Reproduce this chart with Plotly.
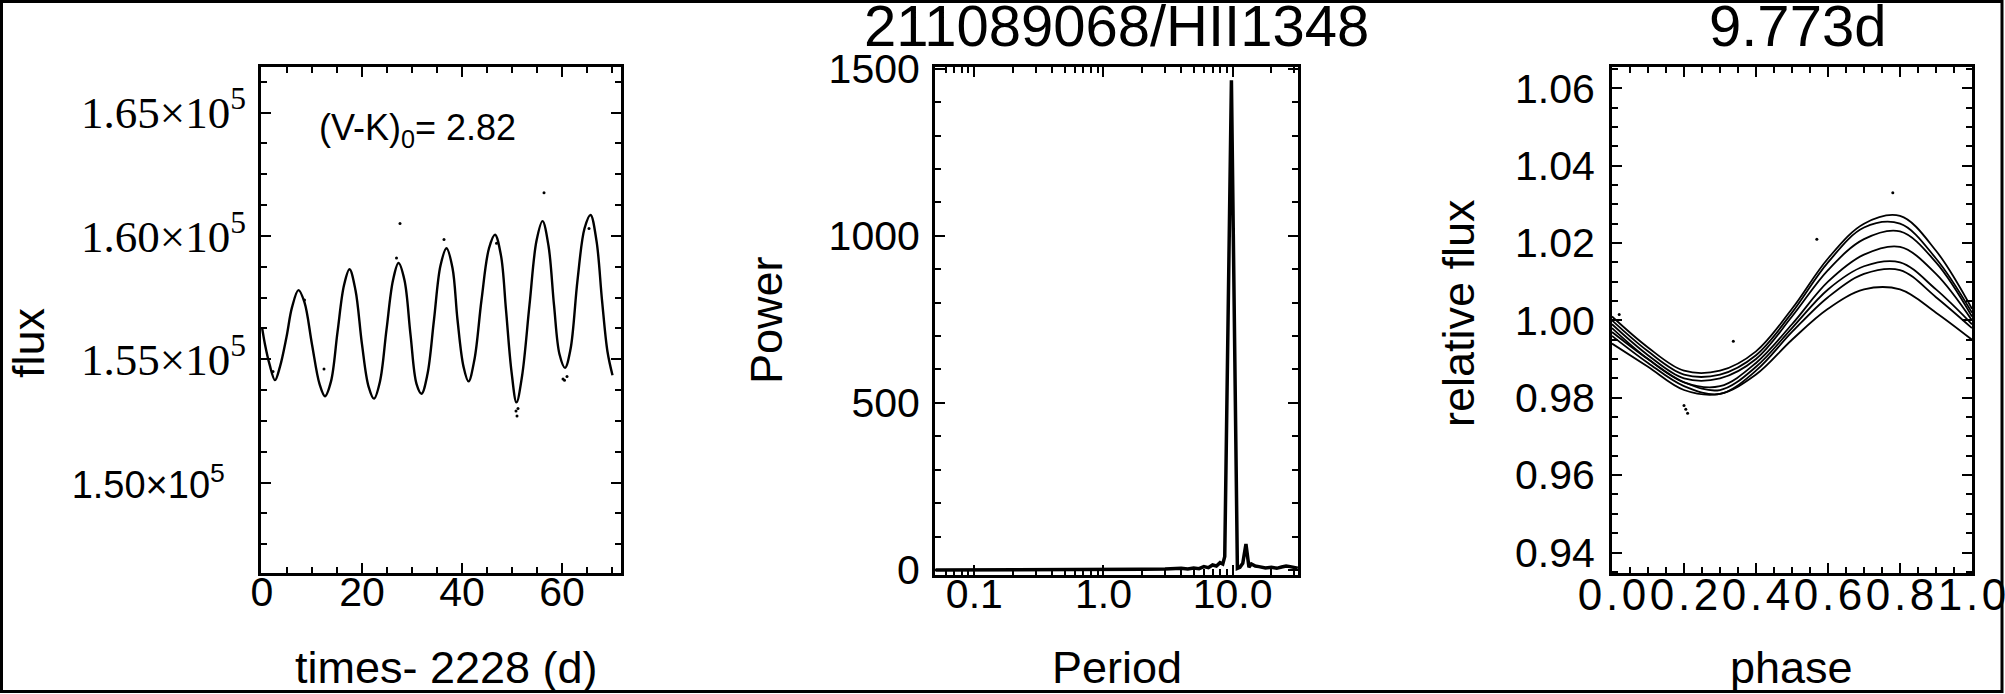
import plotly.graph_objects as go

W, H = 2005, 694

# ---------------- Panel 1: light curve ----------------
lc_time = [0.0, 0.6, 1.5, 2.6, 3.6, 4.9, 6.0, 7.3, 8.5, 10.0, 11.5, 12.6, 13.8, 15.1, 16.4,
           17.5, 18.7, 20.0, 21.3, 22.4, 23.6, 24.9, 26.2, 27.3, 28.5, 29.7, 30.9, 31.9,
           33.1, 34.4, 35.7, 36.9, 38.1, 39.1, 40.3, 41.3, 42.5, 43.9, 45.4, 46.6, 47.8,
           48.8, 49.9, 50.9, 52.0, 53.5, 54.9, 56.1, 57.3, 58.4, 59.5, 60.6, 61.7, 63.1,
           64.5, 65.7, 66.9, 68.0, 69.1, 70.1]
lc_flux = [156300, 155600, 154800, 154150, 154700, 155900, 157100, 157800, 157300, 155600,
           154000, 153500, 154100, 156100, 158000, 158650, 157800, 155600, 153900, 153400,
           154100, 156200, 158200, 158900, 158200, 156000, 154000, 153600, 154400, 156600,
           158800, 159500, 158700, 156600, 154700, 154100, 155000, 157400, 159500, 160050,
           159200, 157000, 154500, 153250, 154300, 157200, 159800, 160600, 159600, 157200,
           155200, 154650, 155400, 158200, 160300, 160850, 159800, 157400, 155300, 154350]
lc_out_time = [27.6, 56.4, 36.4, 8.5, 12.4, 50.8, 51.0, 51.2, 60.2, 61.0, 60.5, 2.2, 26.9, 46.9, 65.4]
lc_out_flux = [160500, 161750, 159850, 157400, 154600, 152900, 152700, 153000, 154200, 154300,
               154150, 154500, 159100, 159700, 160300]

lc_ytickvals = [150000, 155000, 160000, 165000]
lc_yticktext = ["<span style='font-family:Liberation Sans;font-size:38px'>1.50×10<sup>5</sup>\u00a0\u00a0</span>",
                "1.55×10<sup>5</sup>", "1.60×10<sup>5</sup>", "1.65×10<sup>5</sup>"]
lc_xtickvals = [0, 20, 40, 60]

# ---------------- Panel 2: periodogram ----------------
per_period = [0.05, 0.08, 0.12, 0.2, 0.3, 0.5, 0.8, 1.0, 1.5, 2.0, 3.0, 4.0, 4.5, 5.0, 5.5,
              6.0, 6.5, 7.0, 7.5, 8.0, 8.4, 8.7, 9.8, 10.9, 11.4, 12.0, 12.7, 13.4, 14.0,
              15.0, 16.0, 18.0, 20.0, 22.0, 24.0, 26.0, 28.0, 30.0, 32.0]
per_power = [0, 0, 0, 0, 0, 0, 1, 1, 1, 2, 3, 5, 3, 6, 4, 10, 7, 15, 12, 22, 18, 40, 1465,
             5, 8, 20, 78, 8, 18, 12, 10, 6, 8, 5, 9, 12, 10, 7, 5]
per_xtickvals = [0.1, 1.0, 10.0]
per_xticktext = ["0.1", "1.0", "10.0"]
per_xminor = [0.06, 0.07, 0.08, 0.09, 0.2, 0.3, 0.4, 0.5, 0.6, 0.7, 0.8, 0.9,
              2, 3, 4, 5, 6, 7, 8, 9, 20, 30]
per_ytickvals = [0, 500, 1000, 1500]

# ---------------- Panel 3: phase-folded curves ----------------
fold_phase = [0.0, 0.1, 0.2, 0.3, 0.4, 0.5, 0.6, 0.7, 0.8, 0.9, 1.0]
fold_c1 = [0.994, 0.988, 0.982, 0.981, 0.986, 0.995, 1.003, 1.008, 1.008, 1.002, 0.995]
fold_c2 = [0.996, 0.989, 0.983, 0.981, 0.987, 0.997, 1.006, 1.012, 1.013, 1.006, 0.998]
fold_c3 = [0.997, 0.990, 0.984, 0.982, 0.988, 0.998, 1.008, 1.014, 1.015, 1.008, 0.999]
fold_c4 = [0.998, 0.990, 0.984, 0.983, 0.989, 0.999, 1.010, 1.017, 1.019, 1.012, 1.000]
fold_c5 = [0.999, 0.991, 0.985, 0.985, 0.990, 1.001, 1.013, 1.021, 1.023, 1.015, 1.001]
fold_c6 = [1.000, 0.992, 0.986, 0.986, 0.991, 1.002, 1.015, 1.024, 1.025, 1.016, 1.002]
fold_c7 = [1.001, 0.993, 0.987, 0.987, 0.992, 1.003, 1.016, 1.025, 1.027, 1.018, 1.003]
fold_out_phase = [0.78, 0.569, 0.337, 0.02, 0.20, 0.205, 0.21]
fold_out_flux = [1.033, 1.021, 0.9946, 1.0015, 0.978, 0.977, 0.976]
fold_xtickvals = [0.0, 0.2, 0.4, 0.6, 0.8, 1.0]
fold_xticktext = ["0\u200a.\u200a0", "0\u200a.\u200a2", "0\u200a.\u200a4",
                  "0\u200a.\u200a6", "0\u200a.\u200a8", "1\u200a.\u200a0"]
fold_ytickvals = [0.94, 0.96, 0.98, 1.00, 1.02, 1.04, 1.06]
fold_yticktext = ["0.94", "0.96", "0.98", "1.00", "1.02", "1.04", "1.06"]


def px(x):
    return x / W


def py(y):
    return 1 - y / H


SANS = "Liberation Sans, Arial, Helvetica, sans-serif"
TICKF = dict(family=SANS, size=41, color="black")

fig = go.Figure()

# panel 1
fig.add_trace(go.Scatter(x=lc_time, y=lc_flux, mode="lines",
                         line=dict(color="black", width=2.4, shape="spline", smoothing=1.0),
                         xaxis="x", yaxis="y", showlegend=False))
fig.add_trace(go.Scatter(x=lc_out_time, y=lc_out_flux, mode="markers",
                         marker=dict(color="black", size=3),
                         xaxis="x", yaxis="y", showlegend=False))
# panel 2
fig.add_trace(go.Scatter(x=per_period, y=per_power, mode="lines",
                         line=dict(color="black", width=3.5),
                         xaxis="x2", yaxis="y2", showlegend=False))
# panel 3
for c in [fold_c1, fold_c2, fold_c3, fold_c4, fold_c5, fold_c6, fold_c7]:
    fig.add_trace(go.Scatter(x=fold_phase, y=c, mode="lines",
                             line=dict(color="black", width=1.8, shape="spline", smoothing=1.0),
                             xaxis="x3", yaxis="y3", showlegend=False))
fig.add_trace(go.Scatter(x=fold_out_phase, y=fold_out_flux, mode="markers",
                         marker=dict(color="black", size=3),
                         xaxis="x3", yaxis="y3", showlegend=False))


def axis_common(**kw):
    d = dict(showline=True, linewidth=3, linecolor="black", mirror="ticks",
             ticks="inside", ticklen=10, tickwidth=2, tickcolor="black",
             showgrid=False, zeroline=False, tickfont=TICKF, tickangle=0,
             automargin=False, ticklabeloverflow="allow")
    d.update(kw)
    return d


def minor_lin(tick0, dtick):
    return dict(ticks="inside", ticklen=6, tickwidth=2, tickcolor="black",
                tickmode="linear", tick0=tick0, dtick=dtick, showgrid=False)


# domains (pixel positions)
p1x = [px(261), px(621)]
p2x = [px(935), px(1298)]
p3x = [px(1612), px(1972)]
ydom = [py(573), py(67)]
ydom2 = [py(575), py(67)]

XSTAND = -19

fig.update_layout(
    template="none",
    width=W, height=H, autosize=False,
    margin=dict(l=0, r=0, t=0, b=0, pad=0),
    paper_bgcolor="white", plot_bgcolor="white",
    showlegend=False,
    xaxis=axis_common(domain=p1x, anchor="y", range=[-0.2, 71.8], tickmode="array",
                      tickvals=lc_xtickvals, minor=minor_lin(0, 5), ticklabelstandoff=XSTAND),
    yaxis=axis_common(domain=ydom, anchor="x", range=[146330, 166850], tickmode="array",
                      tickvals=lc_ytickvals, ticktext=lc_yticktext,
                      tickfont=dict(family="Liberation Serif, Times New Roman, serif", size=45, color="black"),
                      minor=minor_lin(150000, 1250), ticklabelstandoff=3),
    xaxis2=axis_common(domain=p2x, anchor="y2", type="log", range=[-1.305, 1.507],
                       tickmode="array", tickvals=per_xtickvals, ticktext=per_xticktext,
                       minor=dict(ticks="inside", ticklen=6, tickwidth=2, tickcolor="black",
                                  tickmode="array", tickvals=per_xminor, showgrid=False),
                       ticklabelstandoff=XSTAND),
    yaxis2=axis_common(domain=ydom2, anchor="x2", range=[-15, 1505], tickmode="array",
                       tickvals=per_ytickvals, minor=minor_lin(0, 100), ticklabelstandoff=4),
    xaxis3=axis_common(domain=p3x, anchor="y3", range=[0, 1], tickmode="array",
                       tickvals=fold_xtickvals, ticktext=fold_xticktext, minor=minor_lin(0, 0.05),
                       tickfont=dict(family=SANS, size=44, color="black"), ticklabelstandoff=XSTAND),
    yaxis3=axis_common(domain=ydom, anchor="x3", range=[0.9347, 1.0655], tickmode="array",
                       tickvals=fold_ytickvals, ticktext=fold_yticktext, minor=minor_lin(0.94, 0.005),
                       ticklabelstandoff=6),
)

TITLEF = dict(family=SANS, size=58, color="black")
LABF = dict(family=SANS, size=45, color="black")

annos = [
    dict(text="211089068/HII1348", x=px(1116), y=py(26), font=TITLEF),
    dict(text="9.773d", x=px(1797), y=py(26), font=TITLEF),
    dict(text="flux", x=px(28), y=py(343), font=LABF, textangle=-90),
    dict(text="Power", x=px(766), y=py(320), font=LABF, textangle=-90),
    dict(text="relative flux", x=px(1458), y=py(313), font=LABF, textangle=-90),
    dict(text="times- 2228 (d)", x=px(446), y=py(667), font=LABF),
    dict(text="Period", x=px(1117), y=py(667), font=LABF),
    dict(text="phase", x=px(1791), y=py(667), font=LABF),
    dict(text="(V-K)<sub>0</sub>= 2.82", x=px(417), y=py(130), font=dict(family=SANS, size=36, color="black")),
]
for a in annos:
    a.update(xref="paper", yref="paper", showarrow=False, xanchor="center", yanchor="middle")
    fig.add_annotation(**a)

# outer frame
fig.add_shape(type="rect", xref="paper", yref="paper",
              x0=px(1.5), x1=px(2002), y0=py(691.5), y1=py(1.5),
              line=dict(color="black", width=3))

fig.write_html("out.html", config={"displayModeBar": False},
               post_script="document.body.style.margin='0px';document.body.style.overflow='hidden';")
